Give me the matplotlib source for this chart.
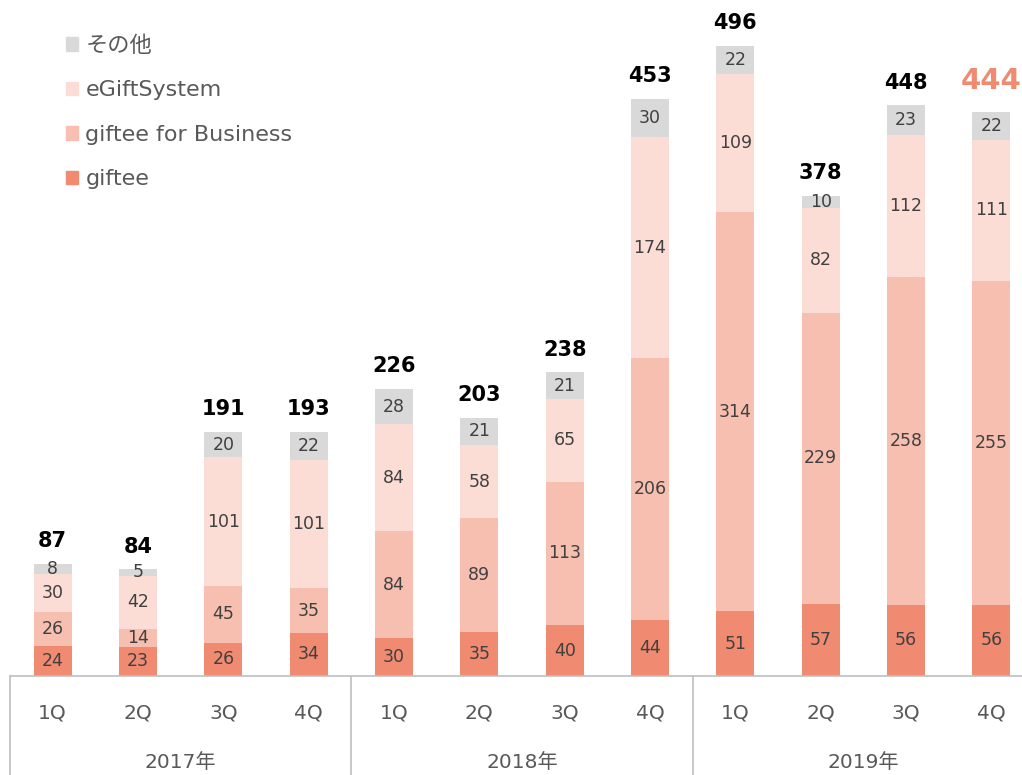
import matplotlib.pyplot as plt
import matplotlib.transforms as mtransforms
from matplotlib.patches import Patch
import numpy as np

# data
quarters = ['1Q', '2Q', '3Q', '4Q'] * 3
years = ['2017年', '2018年', '2019年']
giftee = [24, 23, 26, 34, 30, 35, 40, 44, 51, 57, 56, 56]
business = [26, 14, 45, 35, 84, 89, 113, 206, 314, 229, 258, 255]
egift = [30, 42, 101, 101, 84, 58, 65, 174, 109, 82, 112, 111]
other = [8, 5, 20, 22, 28, 21, 21, 30, 22, 10, 23, 22]
totals = [87, 84, 191, 193, 226, 203, 238, 453, 496, 378, 448, 444]

series = [
    ('giftee', giftee, '#F08A70'),
    ('giftee for Business', business, '#F6BFB0'),
    ('eGiftSystem', egift, '#FBDDD6'),
    ('その他', other, '#D9D9D9'),
]

plt.rcParams['font.family'] = ['DejaVu Sans', 'Noto Sans CJK JP']

fig = plt.figure(figsize=(10.22, 7.75), dpi=100)
ax = fig.add_axes([10 / 1022, 99 / 775, 1024 / 1022, 676 / 775])

x = np.arange(len(totals))
bottom = np.zeros(len(totals))
for name, vals, col in series:
    vals = np.array(vals)
    ax.bar(x, vals, 0.445, bottom=bottom, color=col, label=name, zorder=2)
    for xi, b, v in zip(x, bottom, vals):
        ax.text(xi, b + v / 2, str(v), ha='center', va='center',
                fontsize=12.5, color='#404040', zorder=3)
    bottom = bottom + vals

for xi, t, b in zip(x, totals, bottom):
    if xi == len(totals) - 1:
        ax.text(xi, b + 13, str(t), ha='center', va='bottom', fontsize=21,
                fontweight='bold', color='#F08A70')
    else:
        ax.text(xi, b + 10, str(t), ha='center', va='bottom', fontsize=15,
                fontweight='bold', color='black')

ax.set_xlim(-0.5, 11.5)
ax.set_ylim(0, 532)
for s in ['top', 'right', 'left']:
    ax.spines[s].set_visible(False)
ax.spines['bottom'].set_color('#BFBFBF')
ax.spines['bottom'].set_linewidth(1.2)
ax.set_yticks([])
ax.set_xticks(x)
ax.set_xticklabels(quarters, fontsize=14.5, color='#595959')
ax.tick_params(axis='x', length=0, pad=20)

trans = mtransforms.blended_transform_factory(ax.transData, ax.transAxes)
for i, yr in enumerate(years):
    ax.text(i * 4 + 1.5, -0.128, yr, transform=trans, ha='center', va='center',
            fontsize=14.5, color='#595959')
for xb in [-0.5, 3.5, 7.5, 11.5]:
    ax.plot([xb, xb], [0, -0.15], transform=trans, color='#BFBFBF',
            linewidth=1.2, clip_on=False)

handles = [Patch(color=c, label=n) for n, _, c in series][::-1]
leg = ax.legend(handles=handles, loc='upper left', bbox_to_anchor=(0.035, 0.977),
                frameon=False, fontsize=16, labelspacing=1.1,
                handlelength=0.55, handleheight=0.55, handletextpad=0.33)
for t in leg.get_texts():
    t.set_color('#595959')

fig.savefig('out.png', dpi=100)
